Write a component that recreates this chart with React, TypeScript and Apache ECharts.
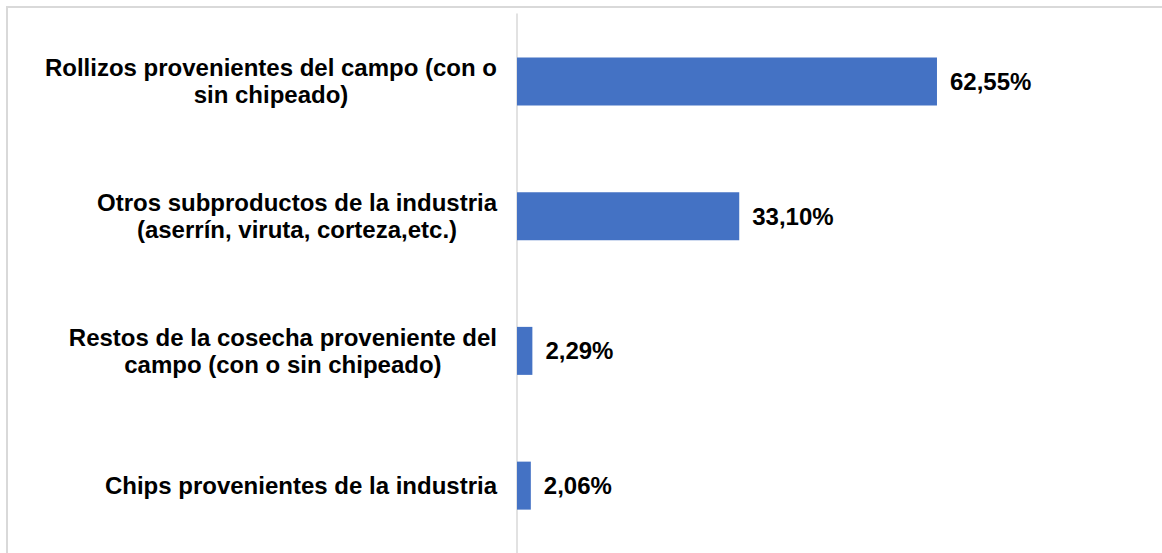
import React, { useEffect, useRef } from "react";
import * as echarts from "echarts";

const categories: string[] = [
  "Rollizos provenientes del campo (con o\nsin chipeado)",
  "Otros subproductos de la industria\n(aserrín, viruta, corteza,etc.)",
  "Restos de la cosecha proveniente del\ncampo (con o sin chipeado)",
  "Chips provenientes de la industria",
];
const values: number[] = [62.55, 33.1, 2.29, 2.06];

const FONT = "'Liberation Sans', Arial, sans-serif";

export default function App() {
  const ref = useRef<HTMLDivElement>(null);
  useEffect(() => {
    if (!ref.current) return;
    const chart = echarts.init(ref.current, null, { renderer: "svg" });
    chart.setOption({
      animation: false,
      backgroundColor: "#ffffff",
      graphic: [
        {
          type: "rect",
          shape: { x: 7, y: 7, width: 3000, height: 3000 },
          style: { fill: "none", stroke: "#d9d9d9", lineWidth: 2 },
          silent: true,
          z: -1,
        },
      ],
      grid: { left: 517, top: 14, right: 175, height: 540, containLabel: false },
      xAxis: {
        type: "value",
        min: 0,
        max: 70,
        show: false,
        splitLine: { show: false },
      },
      yAxis: {
        type: "category",
        inverse: true,
        data: categories,
        axisLine: { show: true, lineStyle: { color: "#d9d9d9", width: 1.5 } },
        axisTick: { show: false },
        splitLine: { show: false },
        axisLabel: {
          margin: 20,
          align: "right",
          formatter: (v: string) =>
            v
              .split("\n")
              .map((l) => `{c|${l}}`)
              .join("\n"),
          rich: {
            c: {
              align: "center",
              fontFamily: FONT,
              fontWeight: "bold",
              fontSize: 24,
              lineHeight: 27,
              color: "#000000",
            },
          },
        },
      },
      series: [
        {
          type: "bar",
          data: values,
          barWidth: 48,
          itemStyle: { color: "#4472c4" },
          label: {
            show: true,
            position: "right",
            distance: 13,
            fontFamily: FONT,
            fontWeight: "bold",
            fontSize: 24,
            color: "#000000",
            formatter: (p: any) => p.value.toFixed(2).replace(".", ",") + "%",
          },
        },
      ],
    });
    return () => chart.dispose();
  }, []);
  return (
    <div
      ref={ref}
      style={{ position: "fixed", left: 0, top: 0, width: 1162, height: 553 }}
    />
  );
}
